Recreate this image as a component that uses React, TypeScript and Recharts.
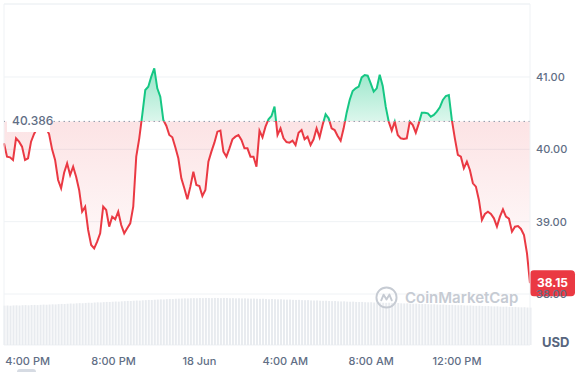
import { ComposedChart, Area, Bar, XAxis, YAxis, CartesianGrid, ReferenceLine } from "recharts";

// price in USD, sampled every ~8.4 min
const prices = [
  40.083, 39.899, 39.889, 39.853, 40.152, 40.106, 40.037, 39.853, 39.876, 40.106,
  40.212, 40.29, 40.336, 40.313, 40.29, 40.212, 40.0, 39.853, 39.576, 39.461,
  39.677, 39.806, 39.645, 39.76, 39.622, 39.438, 39.138, 39.207, 38.885, 38.677,
  38.631, 38.724, 38.839, 39.207, 39.161, 38.931, 39.069, 39.032, 39.138, 38.954,
  38.839, 38.908, 38.977, 39.207, 39.899, 40.152, 40.475, 40.82, 40.866, 41.005,
  41.12, 40.843, 40.728, 40.406, 40.327, 40.198, 40.166, 40.028, 39.876, 39.599,
  39.461, 39.309, 39.484, 39.691, 39.507, 39.493, 39.355, 39.438, 39.829, 39.968,
  40.092, 40.244, 40.258, 39.968, 39.899, 40.014, 40.138, 40.175, 40.198, 40.129,
  40.014, 40.014, 39.899, 39.899, 39.76, 40.258, 40.166, 40.313, 40.415, 40.461,
  40.59, 40.198, 40.29, 40.152, 40.101, 40.092, 40.12, 40.06, 40.23, 40.267,
  40.138, 40.175, 40.06, 40.138, 40.29, 40.166, 40.336, 40.484, 40.429, 40.29,
  40.267, 40.184, 40.12, 40.29, 40.507, 40.682, 40.806, 40.843, 40.866, 40.995,
  41.028, 41.018, 40.912, 40.797, 40.843, 41.032, 40.876, 40.59, 40.382, 40.258,
  40.382, 40.198, 40.152, 40.143, 40.152, 40.382, 40.336, 40.23, 40.359, 40.507,
  40.507, 40.498, 40.452, 40.475, 40.521, 40.581, 40.682, 40.737, 40.751, 40.406,
  40.152, 39.922, 39.899, 39.737, 39.829, 39.714, 39.53, 39.484, 39.3, 39.023,
  39.106, 39.138, 39.106, 39.046, 38.931, 39.069, 39.171, 39.069, 39.041, 38.862,
  38.931, 38.94, 38.899, 38.816, 38.562, 38.15,
];

// traded volume (k), same sampling
const volumes = [
  39.5, 39.6, 39.4, 39.7, 39.8, 39.6, 39.9, 40.0, 39.8, 40.1,
  40.2, 40.0, 40.3, 40.5, 40.4, 40.6, 40.8, 40.7, 41.0, 41.2,
  41.1, 41.4, 41.6, 41.5, 41.8, 42.0, 41.9, 42.2, 42.4, 42.3,
  42.6, 42.8, 42.7, 43.0, 43.2, 43.1, 43.4, 43.6, 43.5, 43.8,
  44.0, 44.2, 44.1, 44.4, 44.6, 44.5, 44.8, 45.0, 45.2, 45.1,
  45.4, 45.6, 45.8, 45.7, 46.0, 46.2, 46.1, 46.4, 46.5, 46.6,
  46.8, 46.7, 46.9, 47.0, 46.9, 47.1, 47.0, 47.2, 47.1, 47.0,
  47.2, 47.1, 47.0, 47.2, 47.1, 46.9, 47.0, 46.8, 46.9, 46.7,
  46.8, 46.6, 46.5, 46.6, 46.4, 46.3, 46.4, 46.2, 46.0, 46.1,
  45.9, 45.8, 45.9, 45.6, 45.5, 45.6, 45.3, 45.2, 45.3, 45.0,
  44.9, 45.0, 44.7, 44.6, 44.7, 44.4, 44.3, 44.4, 44.1, 44.0,
  44.1, 43.8, 43.7, 43.8, 43.5, 43.4, 43.5, 43.2, 43.1, 43.2,
  42.9, 42.8, 42.9, 42.6, 42.5, 42.6, 42.4, 42.3, 42.4, 42.1,
  42.0, 42.1, 41.8, 41.7, 41.8, 41.5, 41.4, 41.5, 41.2, 41.1,
  41.2, 40.9, 40.8, 40.9, 40.6, 40.5, 40.6, 40.3, 40.2, 40.3,
  40.0, 39.9, 40.0, 39.7, 39.6, 39.7, 39.4, 39.3, 39.4, 39.1,
  39.0, 39.1, 38.8, 38.7, 38.8, 38.5, 38.4, 38.5, 38.2, 38.1,
  38.2, 37.9, 37.8, 37.9, 37.6, 37.5,
];

const timeTicks = [16, 20, 24, 28, 32, 36];
const timeLabels = ["4:00 PM", "8:00 PM", "18 Jun", "4:00 AM", "8:00 AM", "12:00 PM"];
const priceTicks = [38, 39, 40, 41];

const OPEN_PRICE = 40.386;
const START_HOUR = 14.9;
const STEP_HOURS = 0.14;
const X_MIN = START_HOUR;
const X_MAX = START_HOUR + (prices.length - 1) * STEP_HOURS;
const Y_MIN = 37.295;
const Y_MAX = 42.009;

const GREEN = "#16c784";
const RED = "#ea3943";
const GRID = "#eff2f5";
const TEXT = "#616e85";

const data = prices.map((p, i) => ({
  t: START_HOUR + i * STEP_HOURS,
  price: p,
  volume: volumes[i],
}));

const hi = Math.max(...prices);
const lo = Math.min(...prices);
const split = (hi - OPEN_PRICE) / (hi - lo);
const last = prices[prices.length - 1];

function LastBadge({ viewBox }: any) {
  const { x, y, width } = viewBox;
  const left = x + width;
  return (
    <g>
      <rect x={left} y={y - 13} width={45} height={26} rx={4} fill={RED} />
      <text x={left + 22.5} y={y} dy="0.36em" textAnchor="middle" fontSize={12} fontFamily="Inter" fontWeight={700} fill="#fff">
        {last.toFixed(2)}
      </text>
    </g>
  );
}

export default function App() {
  return (
    <div style={{ position: "absolute", left: 0, top: 0, width: 587, height: 372, background: "#fff", fontFamily: "Inter" }}>
      <ComposedChart width={587} height={372} data={data} margin={{ top: 4, right: 0, left: 4, bottom: 0 }}>
        <defs>
          <linearGradient id="priceStroke" x1="0" y1="0" x2="0" y2="1">
            <stop offset={split} stopColor={GREEN} />
            <stop offset={split} stopColor={RED} />
          </linearGradient>
          <linearGradient id="priceFill" x1="0" y1="0" x2="0" y2="1">
            <stop offset={0} stopColor={GREEN} stopOpacity={0.45} />
            <stop offset={split} stopColor={GREEN} stopOpacity={0.15} />
            <stop offset={split} stopColor={RED} stopOpacity={0.14} />
            <stop offset={1} stopColor={RED} stopOpacity={0} />
          </linearGradient>
        </defs>
        <CartesianGrid vertical={false} stroke={GRID} yAxisId="price" />
        <XAxis
          dataKey="t"
          type="number"
          domain={[X_MIN, X_MAX]}
          ticks={timeTicks}
          tickFormatter={(v: number) => timeLabels[timeTicks.indexOf(v)]}
          axisLine={false}
          tickLine={false}
          tickMargin={6}
          height={27}
          tick={{ fontSize: 11, fill: TEXT, fontFamily: "Inter", fontWeight: 500 }}
        />
        <YAxis
          yAxisId="price"
          orientation="right"
          domain={[Y_MIN, Y_MAX]}
          ticks={priceTicks}
          tickFormatter={(v: number) => v.toFixed(2)}
          axisLine={{ stroke: GRID }}
          tickLine={false}
          tickMargin={0}
          width={57}
          tick={{ fontSize: 11, fill: TEXT, fontFamily: "Inter", fontWeight: 500 }}
        />
        <YAxis yAxisId="vol" hide domain={[0, 342]} />
        <ReferenceLine yAxisId="price" y={Y_MAX} stroke={GRID} />
        <ReferenceLine yAxisId="price" x={X_MIN} stroke={GRID} />
        <Bar yAxisId="vol" dataKey="volume" fill="#e8ebef" barSize={2} isAnimationActive={false} />
        <Area
          yAxisId="price"
          type="linear"
          dataKey="price"
          baseValue={OPEN_PRICE}
          stroke="url(#priceStroke)"
          strokeWidth={2}
          fill="url(#priceFill)"
          fillOpacity={1}
          dot={false}
          activeDot={false}
          isAnimationActive={false}
        />
        <ReferenceLine yAxisId="price" y={OPEN_PRICE} stroke="#8f98a8" strokeDasharray="1.5 3.5" />
        <ReferenceLine yAxisId="price" y={last} stroke="none" label={<LastBadge />} />
      </ComposedChart>
      <div style={{ position: "absolute", left: 7, top: 110, width: 43, height: 22, lineHeight: "22px", paddingLeft: 5, boxSizing: "border-box", background: "#fff", color: TEXT, fontSize: 12, fontWeight: 500 }}>
        {OPEN_PRICE.toFixed(3)}
      </div>
      <div style={{ position: "absolute", left: 375, top: 286, display: "flex", alignItems: "center", gap: 7, color: "#c6cbd3", fontSize: 15, fontWeight: 600, pointerEvents: "none" }}>
        <svg width={23} height={23} viewBox="0 0 24 24">
          <circle cx={12} cy={12} r={10.5} fill="none" stroke="#c6cbd3" strokeWidth={2} />
          <path d="M6.5 15 L9 9 L12 14 L15 9 L17.5 15" fill="none" stroke="#c6cbd3" strokeWidth={2} strokeLinejoin="round" strokeLinecap="round" />
        </svg>
        <span>CoinMarketCap</span>
      </div>
      <div style={{ position: "absolute", left: 542, top: 334, fontSize: 13, fontWeight: 700, color: "#58667e" }}>USD</div>
      <div style={{ position: "absolute", left: 17, top: 369, width: 19, height: 6, borderRadius: 3, background: "#d6dbe3" }} />
    </div>
  );
}
